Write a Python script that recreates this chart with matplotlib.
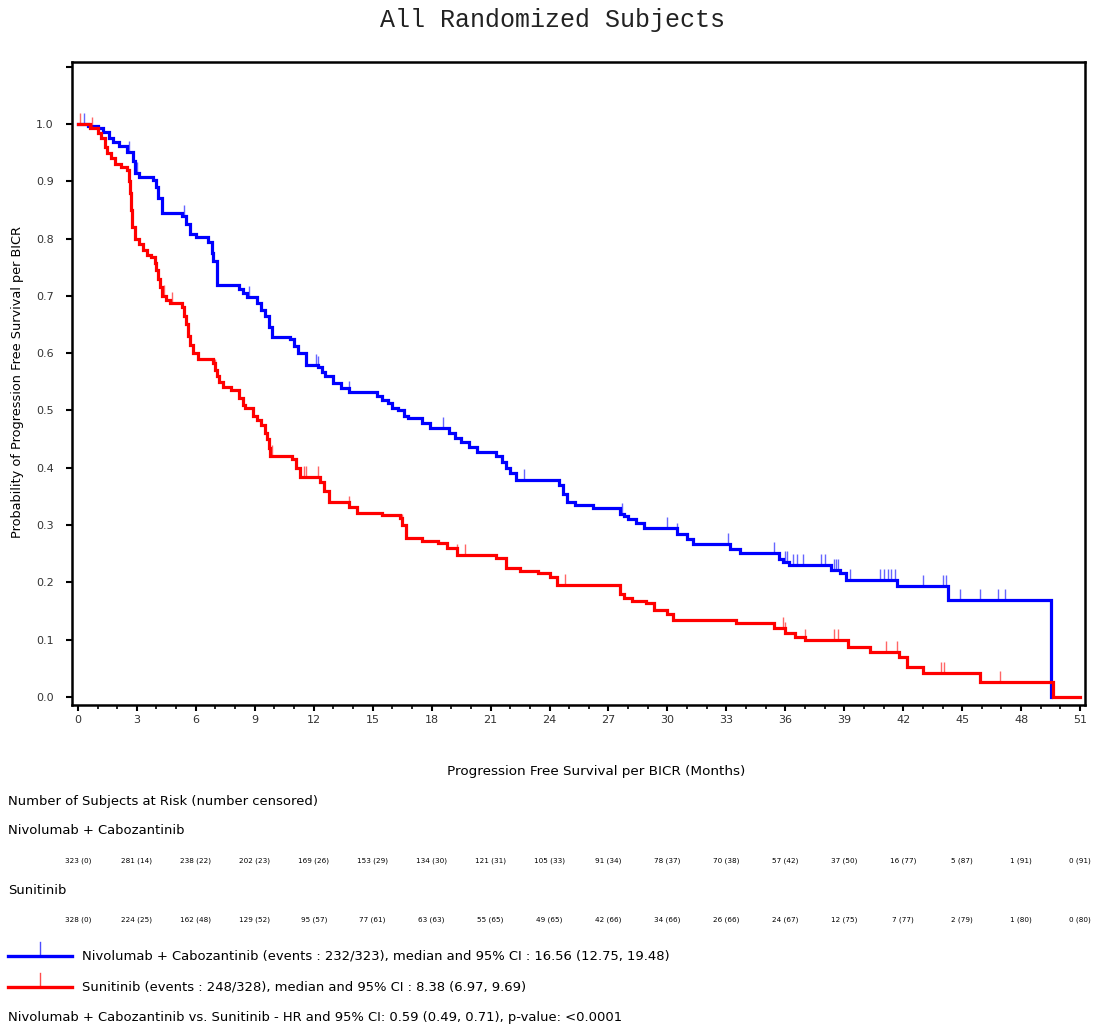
import numpy as np
import matplotlib
matplotlib.use('Agg')
import matplotlib.pyplot as plt
from matplotlib.lines import Line2D
import matplotlib.transforms as mtransforms

# Kaplan-Meier steps (time in months, survival after the step)
nivo_t = [0, 0.5, 1.0, 1.3, 1.6, 1.8, 2.1, 2.5, 2.8, 2.9, 3.1, 3.8, 4.0, 4.1, 4.3,
          5.3, 5.5, 5.7, 6.0, 6.6, 6.8, 6.9, 7.1, 8.2, 8.4, 8.6, 9.1, 9.3, 9.5, 9.7,
          9.9, 10.8, 11.0, 11.2, 11.6, 12.2, 12.4, 12.6, 13.0, 13.4, 13.8, 15.2,
          15.5, 15.8, 16.0, 16.3, 16.6, 16.8, 17.5, 17.9, 18.9, 19.2, 19.5, 19.9,
          20.3, 21.3, 21.6, 21.8, 22.0, 22.3, 24.5, 24.7, 24.9, 25.3, 26.2, 27.6,
          27.8, 28.0, 28.4, 28.8, 30.5, 31.0, 31.3, 33.2, 33.7, 35.7, 35.9, 36.2,
          38.3, 38.8, 39.1, 41.7, 44.3, 49.5]
nivo_s = [1.0, 0.997, 0.993, 0.985, 0.975, 0.969, 0.962, 0.951, 0.935, 0.915, 0.908,
          0.902, 0.89, 0.87, 0.845, 0.84, 0.825, 0.808, 0.803, 0.794, 0.775, 0.76,
          0.719, 0.712, 0.705, 0.698, 0.688, 0.675, 0.665, 0.645, 0.628, 0.625,
          0.612, 0.60, 0.58, 0.575, 0.567, 0.56, 0.548, 0.54, 0.533, 0.525, 0.518,
          0.513, 0.505, 0.50, 0.49, 0.487, 0.478, 0.469, 0.46, 0.452, 0.445, 0.437,
          0.428, 0.42, 0.41, 0.40, 0.39, 0.379, 0.37, 0.355, 0.34, 0.335, 0.33,
          0.32, 0.315, 0.31, 0.303, 0.295, 0.285, 0.275, 0.267, 0.258, 0.251, 0.24,
          0.235, 0.23, 0.222, 0.216, 0.204, 0.194, 0.169, 0.0]
nivo_cens = [0.3, 2.6, 3.0, 5.4, 8.7, 9.9, 12.1, 12.2, 13.8, 18.6, 22.7, 27.7, 30.0,
             30.5, 33.1, 35.4, 36.0, 36.1, 36.4, 36.6, 36.9, 37.8, 38.0, 38.5, 38.6,
             38.7, 39.3, 40.8, 41.0, 41.2, 41.4, 41.6, 43.0, 44.0, 44.2, 44.9, 45.9,
             46.8, 47.2]

suni_t = [0, 0.6, 1.0, 1.2, 1.4, 1.5, 1.7, 1.9, 2.2, 2.5, 2.6, 2.65, 2.7, 2.75, 2.9,
          3.1, 3.3, 3.5, 3.7, 3.9, 4.0, 4.1, 4.2, 4.3, 4.5, 4.7, 5.3, 5.4, 5.5, 5.6,
          5.7, 5.85, 6.1, 6.9, 7.0, 7.1, 7.2, 7.4, 7.8, 8.2, 8.4, 8.5, 8.9, 9.1, 9.3,
          9.5, 9.6, 9.7, 9.8, 10.9, 11.1, 11.3, 12.3, 12.5, 12.8, 13.8, 14.2, 15.5,
          16.4, 16.5, 16.7, 17.5, 18.3, 18.8, 19.3, 21.3, 21.8, 22.5, 23.4, 24.0,
          24.4, 27.6, 27.8, 28.2, 28.9, 29.3, 30.0, 30.3, 33.5, 35.4, 36.0, 36.5,
          37.0, 39.2, 40.3, 41.8, 42.2, 43.0, 45.9, 49.6, 51.0]
suni_s = [1.0, 0.993, 0.984, 0.975, 0.96, 0.95, 0.94, 0.93, 0.925, 0.92, 0.90, 0.88,
          0.85, 0.82, 0.80, 0.79, 0.78, 0.772, 0.768, 0.757, 0.745, 0.73, 0.715,
          0.70, 0.693, 0.688, 0.68, 0.665, 0.65, 0.63, 0.615, 0.60, 0.59, 0.583,
          0.57, 0.56, 0.55, 0.541, 0.535, 0.522, 0.51, 0.505, 0.49, 0.483, 0.475,
          0.46, 0.45, 0.435, 0.42, 0.415, 0.40, 0.384, 0.375, 0.36, 0.34, 0.332,
          0.321, 0.317, 0.313, 0.30, 0.278, 0.273, 0.269, 0.26, 0.248, 0.242, 0.225,
          0.22, 0.216, 0.21, 0.195, 0.18, 0.173, 0.168, 0.164, 0.152, 0.145, 0.134,
          0.129, 0.12, 0.111, 0.105, 0.0995, 0.088, 0.079, 0.07, 0.052, 0.042, 0.026,
          0.0, 0.0]
suni_cens = [0.1, 0.7, 4.4, 4.8, 7.0, 9.9, 11.5, 11.6, 12.2, 13.8, 16.5, 19.3, 19.7,
             24.8, 35.9, 36.0, 37.0, 38.5, 38.7, 41.1, 41.7, 43.9, 44.1, 46.9]

risk_months = list(range(0, 52, 3))
nivo_risk = ["323 (0)", "281 (14)", "238 (22)", "202 (23)", "169 (26)", "153 (29)",
             "134 (30)", "121 (31)", "105 (33)", "91 (34)", "78 (37)", "70 (38)",
             "57 (42)", "37 (50)", "16 (77)", "5 (87)", "1 (91)", "0 (91)"]
suni_risk = ["328 (0)", "224 (25)", "162 (48)", "129 (52)", "95 (57)", "77 (61)",
             "63 (63)", "55 (65)", "49 (65)", "42 (66)", "34 (66)", "26 (66)",
             "24 (67)", "12 (75)", "7 (77)", "2 (79)", "1 (80)", "0 (80)"]

nivo_label = "Nivolumab + Cabozantinib (events : 232/323), median and 95% CI : 16.56 (12.75, 19.48)"
suni_label = "Sunitinib (events : 248/328), median and 95% CI : 8.38 (6.97, 9.69)"
hr_text = "Nivolumab + Cabozantinib vs. Sunitinib - HR and 95% CI: 0.59 (0.49, 0.71), p-value: <0.0001"

BLUE = '#0000ff'
RED = '#ff0000'
W, H = 1097, 1028
FS = 9.45

plt.rcParams['font.family'] = ['DejaVu Sans']

fig = plt.figure(figsize=(W / 100, H / 100), dpi=100)
ax = fig.add_axes([72 / W, 1 - 705 / H, (1085 - 72) / W, (705 - 62) / H])


def surv_at(times, surv, c):
    idx = np.searchsorted(times, c, side='right') - 1
    return np.array(surv)[idx]


for t, s, cens, col in [(nivo_t, nivo_s, nivo_cens, BLUE), (suni_t, suni_s, suni_cens, RED)]:
    ax.step(t, s, where='post', color=col, lw=2.3, solid_joinstyle='miter')
    ax.plot(cens, surv_at(t, s, cens), linestyle='none', marker=2, ms=8,
            mew=1.0, color=col, alpha=0.6)

ax.set_xlim(-0.3, 51.25)
ax.set_ylim(-0.014, 1.108)
ax.set_xticks(risk_months)
ax.set_xticks(np.arange(0, 52, 1), minor=True)
ax.set_yticks(np.round(np.arange(0, 1.11, 0.1), 1))
ax.set_yticklabels(["%.1f" % v for v in np.arange(0, 1.01, 0.1)] + [""])
ax.tick_params(axis='both', which='major', direction='out', length=4, width=1.5,
               labelsize=8, colors='black', labelcolor='#333333')
ax.tick_params(axis='y', which='major', pad=9)
ax.tick_params(axis='x', which='minor', direction='out', length=3, width=1.2)
for sp in ax.spines.values():
    sp.set_linewidth(1.8)

fig.text(553 / W, 1 - 20 / H, "All Randomized Subjects", family='Liberation Mono',
         fontsize=18, ha='center', va='center', color='#222222')
fig.text(18 / W, 1 - 382 / H, "Probability of Progression Free Survival per BICR",
         rotation=90, fontsize=9.3, ha='center', va='center')
fig.text(596 / W, 1 - 772 / H, "Progression Free Survival per BICR (Months)",
         fontsize=9.7, ha='center', va='center')

fig.text(8 / W, 1 - 802 / H, "Number of Subjects at Risk (number censored)",
         fontsize=FS, ha='left', va='center')
fig.text(8 / W, 1 - 830 / H, "Nivolumab + Cabozantinib", fontsize=FS, ha='left', va='center')
fig.text(8 / W, 1 - 890 / H, "Sunitinib", fontsize=FS, ha='left', va='center')

trans = mtransforms.blended_transform_factory(ax.transData, fig.transFigure)
for m, a, b in zip(risk_months, nivo_risk, suni_risk):
    fig.text(m, 1 - 861 / H, a, transform=trans, fontsize=5.2, ha='center', va='center')
    fig.text(m, 1 - 920 / H, b, transform=trans, fontsize=5.2, ha='center', va='center')

# legend entries drawn in figure pixels
for yy, col, lab in [(956, BLUE, nivo_label), (987, RED, suni_label)]:
    fig.add_artist(Line2D([8 / W, 72 / W], [1 - yy / H, 1 - yy / H], color=col, lw=2.4))
    fig.add_artist(Line2D([40 / W, 40 / W], [1 - yy / H, 1 - (yy - 14) / H], color=col,
                          lw=1.0, alpha=0.7))
    fig.text(82 / W, 1 - yy / H, lab, fontsize=FS, ha='left', va='center')
fig.text(8 / W, 1 - 1017 / H, hr_text, fontsize=FS, ha='left', va='center')

fig.savefig("out.png", dpi=100)
